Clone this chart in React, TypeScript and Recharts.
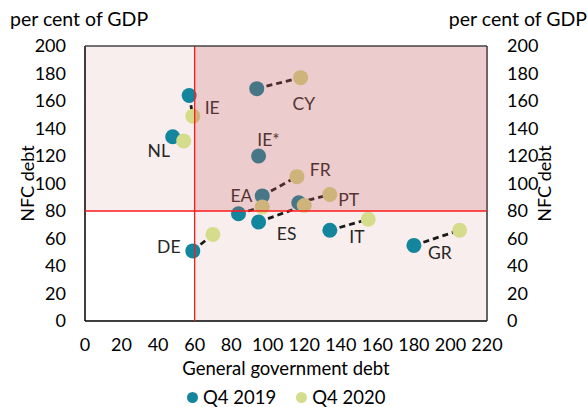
import React from 'react';
import {
  ScatterChart,
  Scatter,
  XAxis,
  YAxis,
  ReferenceArea,
  ReferenceLine,
} from 'recharts';

// Countries and their debt ratios (per cent of GDP)
const countries = ['IE', 'CY', 'NL', 'IE*', 'FR', 'EA', 'PT', 'ES', 'IT', 'GR', 'DE'];
const govDebt2019 = [57, 94, 48, 95, 97, 84, 117, 95, 134, 180, 59];
const nfcDebt2019 = [164, 169, 134, 120, 91, 78, 86, 72, 66, 55, 51];
const govDebt2020 = [59, 118, 54, null, 116, 97, 134, 120, 155, 205, 70];
const nfcDebt2020 = [149, 177, 131, null, 105, 83, 92, 84, 74, 66, 63];

const xTicks = [0, 20, 40, 60, 80, 100, 120, 140, 160, 180, 200, 220];
const yTicks = [0, 20, 40, 60, 80, 100, 120, 140, 160, 180, 200];

const TEAL = '#13869d';
const LIME = '#d5dc8c';
const FONT = 'Lato, "Open Sans", sans-serif';

// label placement relative to the Q4 2019 marker (px)
const LABEL_OFFSET: Record<string, [number, number]> = {
  IE: [23, 12],
  CY: [47, 15],
  NL: [-14, 14],
  'IE*': [10, -17],
  FR: [58, -26],
  EA: [3, -18],
  PT: [50, -3],
  ES: [28, 11],
  IT: [27, 6],
  GR: [26, 7],
  DE: [-24, -4],
};

const data2019 = countries.map((c, i) => ({ name: c, x: govDebt2019[i], y: nfcDebt2019[i] }));
const data2020 = countries
  .map((c, i) => ({ name: c, x: govDebt2020[i], y: nfcDebt2020[i] }))
  .filter((d) => d.x !== null);
const pairs = countries
  .map((c, i) => ({
    name: c,
    pts: [
      { x: govDebt2019[i], y: nfcDebt2019[i] },
      { x: govDebt2020[i], y: nfcDebt2020[i] },
    ],
  }))
  .filter((p) => p.pts[1].x !== null);

const Dot2019 = (props: any) => {
  const { cx, cy, payload } = props;
  const off = LABEL_OFFSET[payload.name] || [0, 0];
  return (
    <g>
      <circle cx={cx} cy={cy} r={7.5} fill={TEAL} />
      <text
        x={cx + off[0]}
        y={cy + off[1]}
        textAnchor="middle"
        dominantBaseline="central"
        fontSize={17.5}
        fontFamily={FONT}
        fill="#262626"
      >
        {payload.name}
      </text>
    </g>
  );
};

const Dot2020 = (props: any) => <circle cx={props.cx} cy={props.cy} r={7.5} fill={LIME} />;

const tickStyle = { fill: '#000', fontSize: 18, fontFamily: FONT };

export default function App() {
  return (
    <div style={{ position: 'absolute', left: 0, top: 0, width: 587, height: 407, fontFamily: FONT }}>
      <div style={{ position: 'absolute', left: 10, top: 7, fontSize: 19.5, lineHeight: '24px', color: '#000' }}>
        per cent of GDP
      </div>
      <div style={{ position: 'absolute', right: 0, top: 7, fontSize: 19.5, lineHeight: '24px', color: '#000' }}>
        per cent of GDP
      </div>
      <ScatterChart width={587} height={407} margin={{ top: 46, right: 0, bottom: 0, left: 0 }}>
        <XAxis
          type="number"
          dataKey="x"
          domain={[0, 220]}
          ticks={xTicks}
          interval={0}
          tickLine={false}
          tickMargin={11}
          height={86}
          axisLine={{ stroke: '#000', strokeWidth: 1.5 }}
          tick={tickStyle}
          label={{ value: 'General government debt', position: 'insideTop', offset: 41, fill: '#000', fontSize: 18.5, fontFamily: FONT }}
        />
        <YAxis
          yAxisId="left"
          type="number"
          dataKey="y"
          domain={[0, 200]}
          ticks={yTicks}
          interval={0}
          width={85}
          tickLine={false}
          tickMargin={13}
          axisLine={{ stroke: '#000', strokeWidth: 1.5 }}
          tick={tickStyle}
          label={{ value: 'NFC debt', angle: -90, position: 'center', dx: -15, fill: '#000', fontSize: 18, fontFamily: FONT }}
        />
        <YAxis
          yAxisId="right"
          orientation="right"
          type="number"
          dataKey="y"
          domain={[0, 200]}
          ticks={yTicks}
          interval={0}
          width={100}
          tickLine={false}
          tickMargin={14}
          axisLine={{ stroke: '#333', strokeWidth: 1.5 }}
          tick={{ ...tickStyle, textAnchor: 'start' }}
          label={{ value: 'NFC debt', angle: -90, position: 'center', dx: 8, fill: '#000', fontSize: 18, fontFamily: FONT }}
        />

        {/* light shading */}
        <ReferenceArea yAxisId="left" x1={0} x2={60} y1={80} y2={200} fill="#f8eeee" fillOpacity={1} stroke="none" />
        <ReferenceArea yAxisId="left" x1={60} x2={220} y1={0} y2={80} fill="#f8eeee" fillOpacity={1} stroke="none" />

        {/* hidden series so the right axis gets its ticks */}
        <Scatter yAxisId="right" data={data2019} shape={() => <g />} legendType="none" isAnimationActive={false} />

        {/* dashed links 2019 -> 2020 */}
        {pairs.map((p) => (
          <Scatter
            key={p.name}
            yAxisId="left"
            data={p.pts}
            line={{ stroke: '#1a1a1a', strokeWidth: 2.8, strokeDasharray: '6 4' }}
            shape={() => <g />}
            legendType="none"
            isAnimationActive={false}
          />
        ))}

        <Scatter name="Q4 2019" yAxisId="left" data={data2019} fill={TEAL} shape={Dot2019} isAnimationActive={false} />
        <Scatter name="Q4 2020" yAxisId="left" data={data2020} fill={LIME} shape={Dot2020} isAnimationActive={false} />

        {/* dark shading drawn on top */}
        <ReferenceArea
          yAxisId="left"
          x1={60}
          x2={220}
          y1={80}
          y2={200}
          fill="#c05555"
          fillOpacity={0.3}
          stroke="none"
          zIndex={2500}
        />
        <ReferenceLine yAxisId="left" x={60} stroke="#ff1a1a" strokeWidth={1.3} zIndex={2600} />
        <ReferenceLine yAxisId="left" y={80} stroke="#ff1a1a" strokeWidth={1.3} zIndex={2600} />
        <ReferenceLine yAxisId="left" y={200} stroke="#444" strokeWidth={1.5} zIndex={2600} />
      </ScatterChart>

      {/* legend */}
      <div style={{ position: 'absolute', left: 187, top: 388, display: 'flex', alignItems: 'center', fontSize: 18.5, lineHeight: '19px', color: '#000' }}>
        <span style={{ width: 11, height: 11, borderRadius: '50%', background: TEAL, display: 'inline-block', marginRight: 5 }} />
        <span>Q4 2019</span>
        <span style={{ width: 11, height: 11, borderRadius: '50%', background: LIME, display: 'inline-block', marginLeft: 20, marginRight: 5 }} />
        <span>Q4 2020</span>
      </div>
    </div>
  );
}
